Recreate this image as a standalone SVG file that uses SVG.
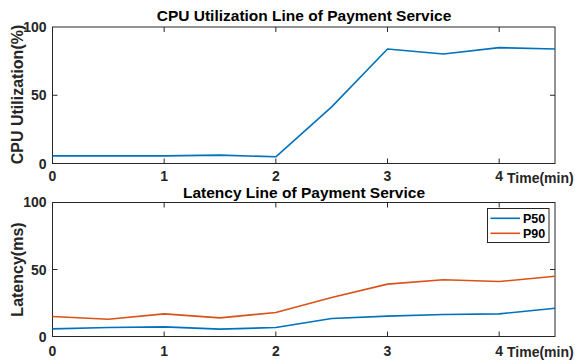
<svg xmlns="http://www.w3.org/2000/svg" width="575" height="362" viewBox="0 0 575 362">
<style>
text{font-family:"Liberation Sans",Arial,Helvetica,sans-serif;font-weight:bold;fill:#262626}
.title{font-size:15.5px;text-anchor:middle;fill:#000}
.tick{font-size:14px}
.ylab{font-size:14px;text-anchor:end}
.xlab{font-size:14px;text-anchor:middle}
.alab{font-size:16px;text-anchor:middle}
.box{fill:#fff;stroke:#262626;stroke-width:1}
.tk{stroke:#262626;stroke-width:1;fill:none}
.s1{fill:none;stroke:#0072BD;stroke-width:1.6;stroke-linejoin:round}
.s2{fill:none;stroke:#D95319;stroke-width:1.6;stroke-linejoin:round}
.leg{font-size:12.5px;fill:#000}
</style>
<rect width="575" height="362" fill="#fff"/>

<g id="cpu-chart">
  <text class="title" x="304" y="21">CPU Utilization Line  of Payment Service</text>
  <rect class="box" x="52.5" y="27" width="502.5" height="136.5"/>
  <path class="tk" d="M164.17 163.5V158.5M275.83 163.5V158.5M387.5 163.5V158.5M499.17 163.5V158.5M164.17 27V32M275.83 27V32M387.5 27V32M499.17 27V32M52.5 95.25H57.5M555 95.25H550"/>
  <text class="ylab" x="46.5" y="31.7">100</text>
  <text class="ylab" x="46.5" y="100">50</text>
  <text class="ylab" x="46.5" y="168.5">0</text>
  <text class="xlab" x="52.5" y="180.5">0</text>
  <text class="xlab" x="164.17" y="180.5">1</text>
  <text class="xlab" x="275.83" y="180.5">2</text>
  <text class="xlab" x="387.5" y="180.5">3</text>
  <text class="xlab" x="499.17" y="180.5">4</text>
  <text class="tick" x="507" y="182.5">Time(min)</text>
  <text class="alab" transform="translate(23,94.5) rotate(-90)">CPU Utilization(%)</text>
  <polyline class="s1" points="52.5,155.86 108.33,155.86 164.17,155.86 220,155.17 275.83,156.81 331.67,106.85 387.5,48.98 443.33,54.03 499.17,47.61 555,48.98"/>
</g>

<g id="latency-chart">
  <text class="title" x="304" y="197.5">Latency Line of Payment Service</text>
  <rect class="box" x="52.5" y="202.5" width="502.5" height="134"/>
  <path class="tk" d="M164.17 336.5V331.5M275.83 336.5V331.5M387.5 336.5V331.5M499.17 336.5V331.5M164.17 202.5V207.5M275.83 202.5V207.5M387.5 202.5V207.5M499.17 202.5V207.5M52.5 269.5H57.5M555 269.5H550"/>
  <text class="ylab" x="46.5" y="207.2">100</text>
  <text class="ylab" x="46.5" y="274.5">50</text>
  <text class="ylab" x="46.5" y="342">0</text>
  <text class="xlab" x="52.5" y="355.5">0</text>
  <text class="xlab" x="164.17" y="355.5">1</text>
  <text class="xlab" x="275.83" y="355.5">2</text>
  <text class="xlab" x="387.5" y="355.5">3</text>
  <text class="xlab" x="499.17" y="355.5">4</text>
  <text class="tick" x="507" y="357">Time(min)</text>
  <text class="alab" transform="translate(23,269.5) rotate(-90)">Latency(ms)</text>
  <polyline class="s2" points="52.5,316.53 108.33,319.21 164.17,313.85 220,317.87 275.83,312.51 331.67,297.51 387.5,284.11 443.33,279.82 499.17,281.56 555,276.2"/>
  <polyline class="s1" points="52.5,328.86 108.33,327.52 164.17,326.85 220,329.13 275.83,327.52 331.67,318.54 387.5,316.13 443.33,314.52 499.17,313.85 555,308.23"/>
</g>

<g id="legend">
  <rect class="box" x="487.5" y="208.5" width="61.5" height="34"/>
  <line class="s1" x1="490.5" y1="218.3" x2="520" y2="218.3"/>
  <line class="s2" x1="490.5" y1="233.3" x2="520" y2="233.3"/>
  <text class="leg" x="523" y="222.8">P50</text>
  <text class="leg" x="523" y="237.8">P90</text>
</g>
</svg>
